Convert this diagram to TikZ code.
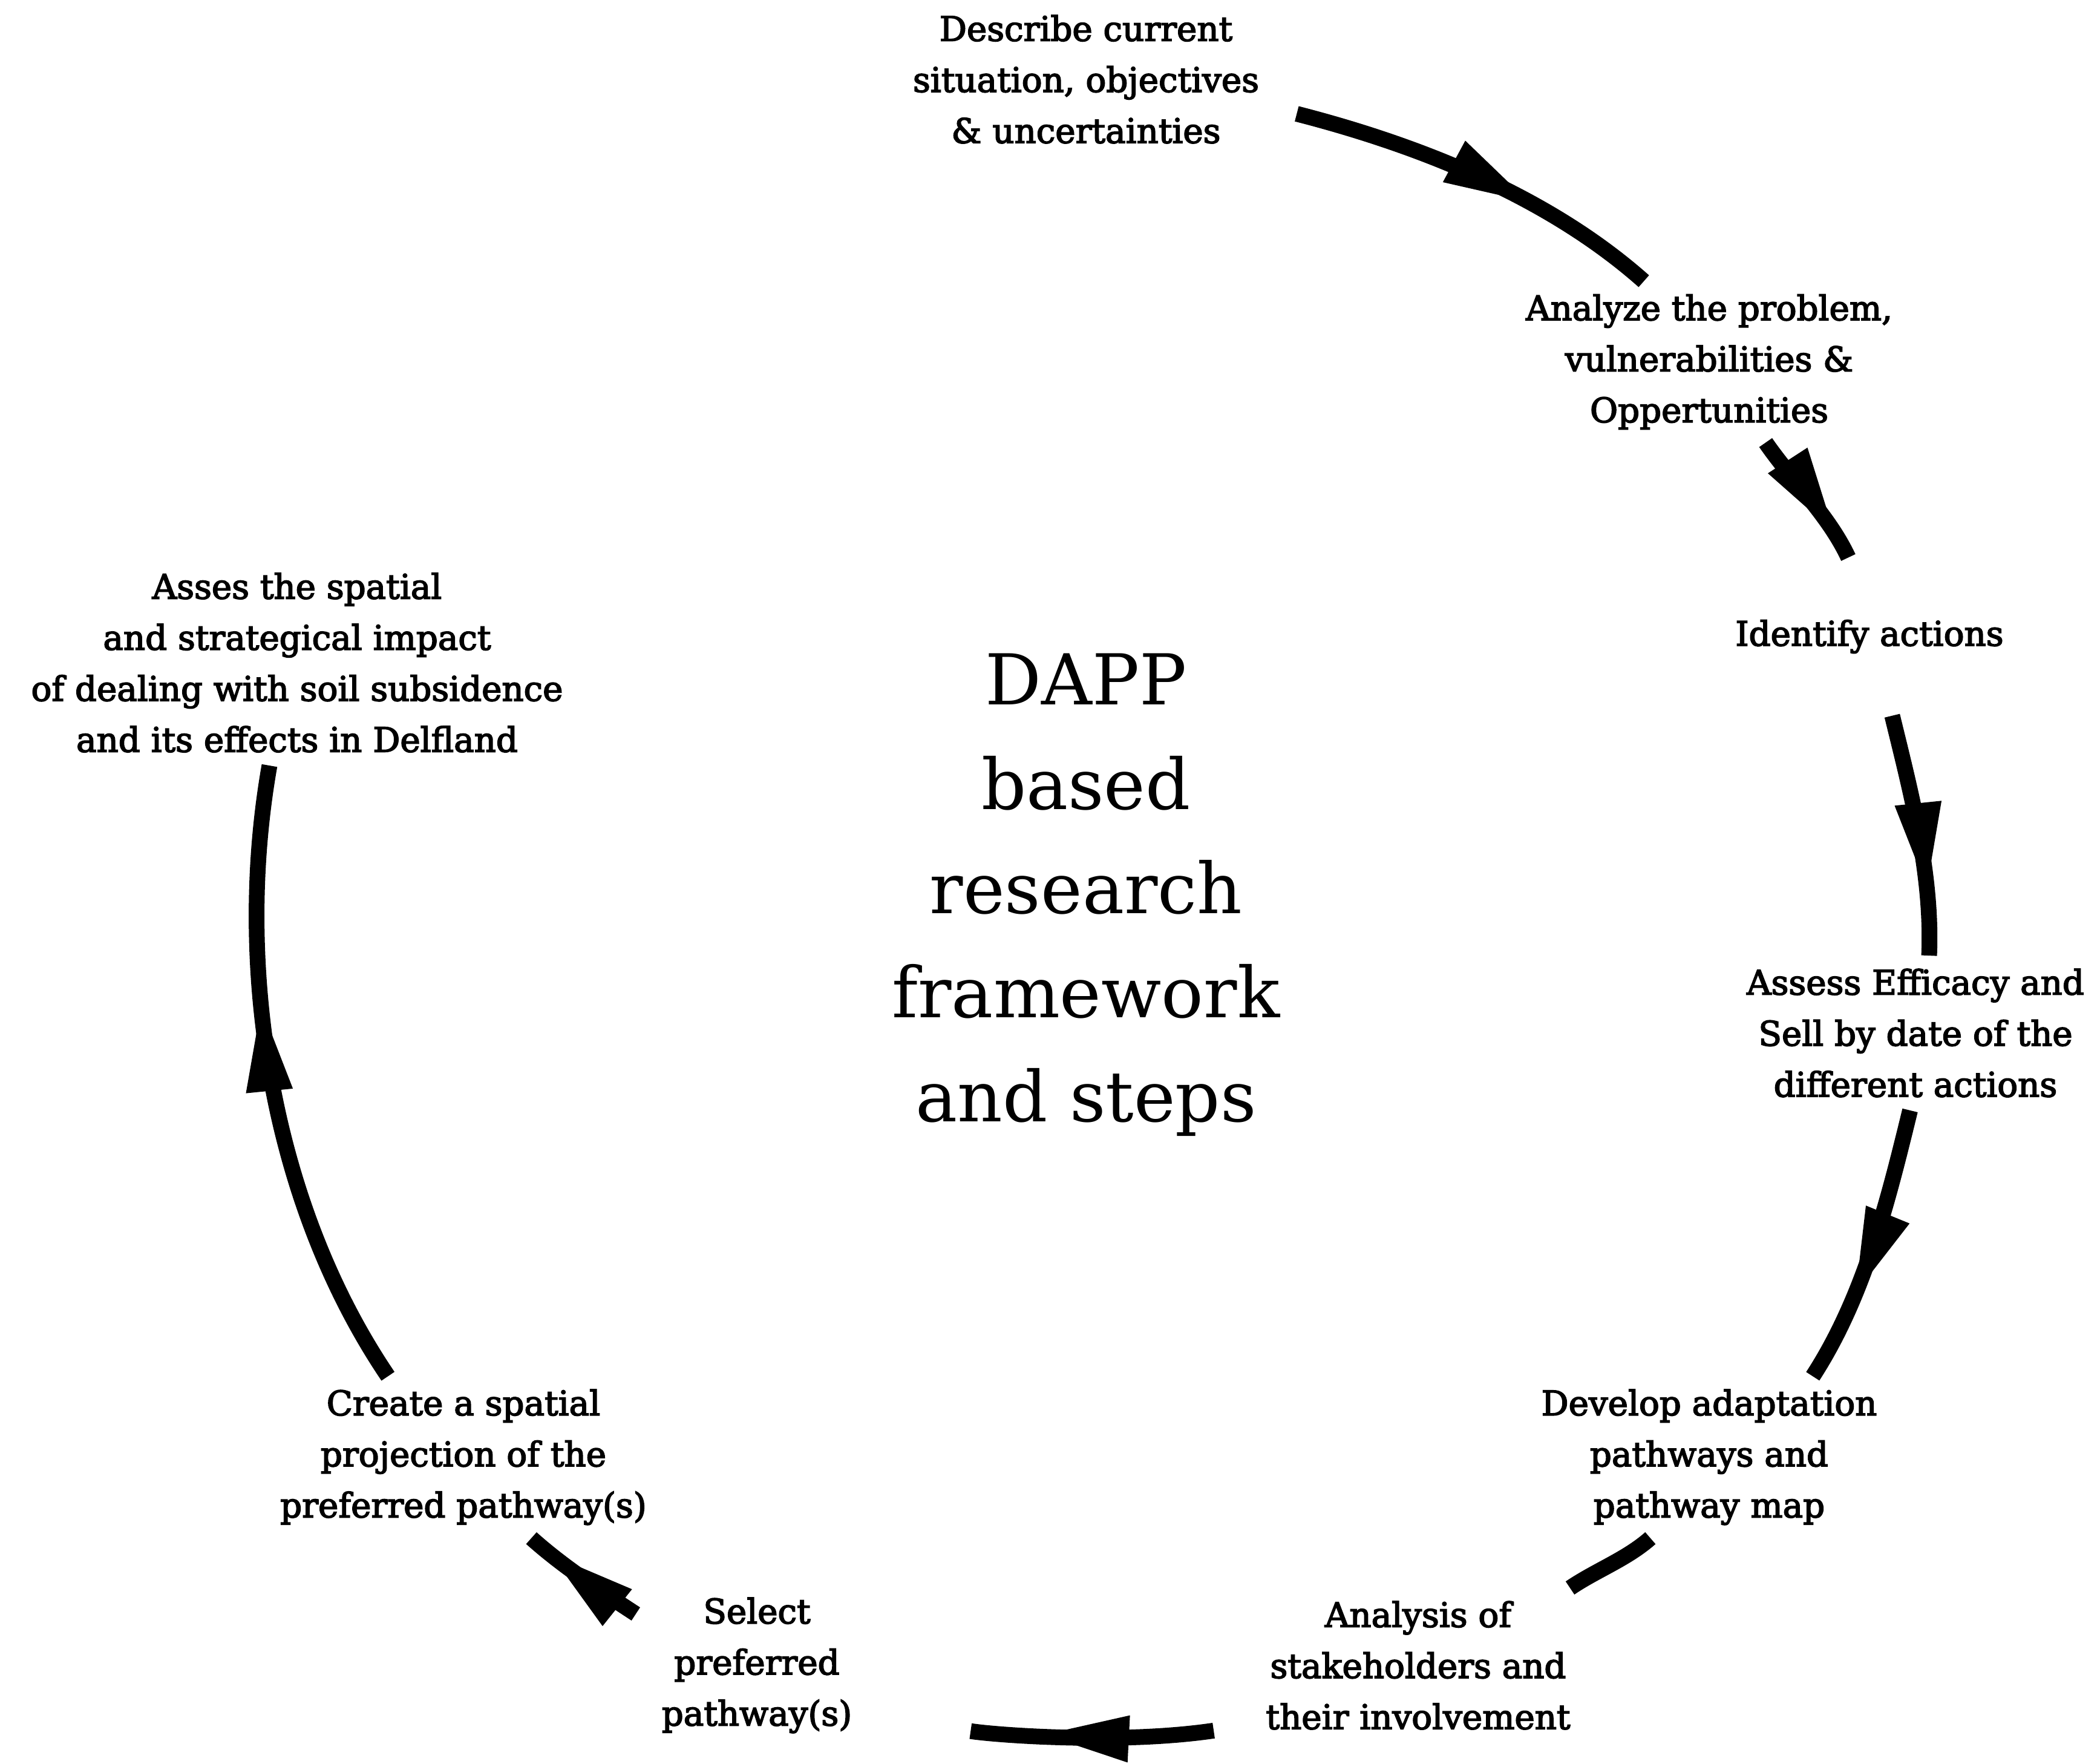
\documentclass[tikz,border=0pt]{standalone}
\usepackage{fontspec}
\setmainfont{DejaVu Serif}
\newfontfamily\labelfont{DejaVu Serif}[FakeBold=3]
\usetikzlibrary{arrows.meta,decorations.markings}
\tikzset{
  steplabel/.style={font=\labelfont\fontsize{16}{24}\selectfont, align=center, inner xsep=12pt, inner ysep=6pt},
  flow/.style={line width=0.26cm, looseness=0.85},
  midarrow/.style={postaction={decorate,decoration={markings,
    mark=at position #1 with {\arrow{Triangle[length=1.4cm,width=0.78cm,line width=0pt]}}}}}
}

\begin{document}
\begin{tikzpicture}
  \useasboundingbox (0,0) rectangle (34.71,-29.15);
  \node[steplabel] (desc) at (17.95,-1.31) {Describe current\\situation, objectives\\\& uncertainties};
  \node[steplabel] (anal) at (28.25,-5.98) {Analyze the problem,\\vulnerabilities \&\\Oppertunities};
  \node[steplabel, minimum height=2.6cm] (iden) at (30.90,-10.52) {Identify actions};
  \node[steplabel] (asse) at (31.66,-17.07) {Assess Efficacy and\\Sell by date of the\\different actions};
  \node[steplabel] (deve) at (28.25,-24.08) {Develop adaptation\\pathways and\\pathway map};
  \node[steplabel] (stak) at (23.44,-27.52) {Analysis of\\stakeholders and\\their involvement};
  \node[steplabel] (sele) at (12.51,-27.52) {Select\\preferred\\pathway(s)};
  \node[steplabel] (crea) at (7.66,-24.08) {Create a spatial\\projection of the\\preferred pathway(s)};
  \node[steplabel] (impa) at (4.91,-10.95) {Asses the spatial\\and strategical impact\\of dealing with soil subsidence\\and its effects in Delfland};
  \node[font=\fontsize{33}{49}\selectfont, align=center] (dapp) at (17.95,-14.79) {DAPP\\based\\research\\framework\\and steps};
  % the cycle
  \draw[flow, midarrow=0.65, shorten <=2mm] (desc.-9.4) to[out=-14.4, in=138.4] (anal.129.9);
  \draw[flow, midarrow=0.79] (anal.-55.9) to[out=-55.4, in=115] (iden.105.4);
  \draw[flow, midarrow=0.72] (iden.-74.8) to[out=-76.3, in=87.5] (asse.80.7);
  \draw[flow, midarrow=0.67] (asse.-94.7) to[out=-103.7, in=57] (deve.38.1);
  \draw[flow] (deve.-126.6) to[out=-138.4, in=34.2] (stak.27.7);
  \draw[flow, midarrow=0.54, shorten <=4.4mm, shorten >=15.5mm] (stak.-161.3) to[out=-171.6, in=-8.8] (sele.-23.1);
  \draw[flow, midarrow=0.8] (sele.157.6) to[out=146.8, in=-41.8] (crea.-50);
  \draw[flow, midarrow=0.62] (crea.133.9) to[out=124.1, in=-100] (impa.-105.2);
\end{tikzpicture}
\end{document}
